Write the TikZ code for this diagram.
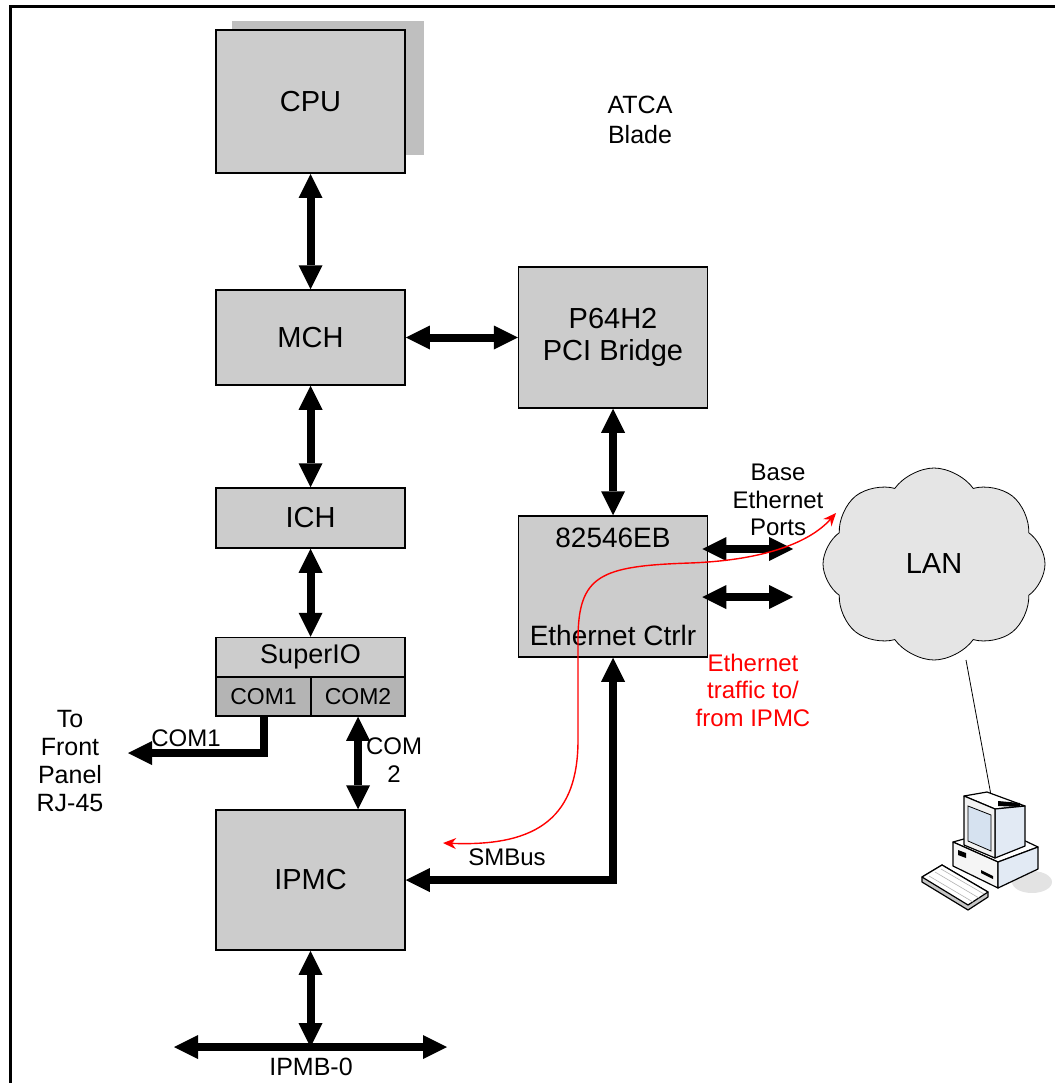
\documentclass[tikz,border=0pt]{standalone}
\usepackage{fontspec}
\setmainfont{Liberation Sans}
\usetikzlibrary{arrows.meta,positioning,shapes.symbols}
\definecolor{boxgray}{RGB}{204,204,204}
\definecolor{shadowgray}{RGB}{191,191,191}
\definecolor{comgray}{RGB}{180,180,180}
\definecolor{cloudgray}{RGB}{229,229,229}
\definecolor{pcblue}{RGB}{214,226,240}
\definecolor{pcside}{RGB}{226,234,244}

\begin{document}
\begin{tikzpicture}[x=1pt, y=-1pt, every node/.style={font=\fontsize{29}{32}\selectfont},
  blk/.style={draw, fill=boxgray, line width=1.5pt, minimum width=189pt, inner sep=0pt, align=center},
  lbl/.style={font=\fontsize{24}{27.5}\selectfont, align=center, inner sep=0pt},
  bus/.style={line width=8pt, {Triangle[length=24pt,width=24pt,line width=0pt]}-{Triangle[length=24pt,width=24pt,line width=0pt]}},
  onebus/.style={line width=8pt, -{Triangle[length=24pt,width=24pt,line width=0pt]}}]
\useasboundingbox (0,0) rectangle (1055,1083);
% frame
\draw[line width=3pt] (10,1083) -- (10,7) -- (1055,7);
% CPU with a second one behind it
\node[fill=shadowgray, minimum width=192pt, minimum height=134pt, inner sep=0pt] (cpuback) at (328,88) {};
\node[blk, line width=2pt, minimum height=143pt] (cpu) at (310.5,101.5) {CPU};
\node[lbl, font=\fontsize{25}{30}\selectfont] (atca) at (640,120) {ATCA\\Blade};
% chipset
\node[blk, minimum height=95pt] (mch) at (310.5,337.5) {MCH};
\node[blk, minimum height=141pt] (bridge) at (613,337.5) {P64H2\\PCI Bridge};
\node[blk, minimum height=60pt] (ich) at (310.5,518) {ICH};
\node[blk, minimum height=39pt, font=\fontsize{27}{30}\selectfont] (sio) at (310.5,657) {SuperIO};
\node[blk, fill=comgray, minimum width=95pt, minimum height=39pt, font=\fontsize{23}{26}\selectfont] (com1) at (263.5,696.5) {COM1};
\node[blk, fill=comgray, minimum width=94pt, minimum height=39pt, font=\fontsize{23}{26}\selectfont] (com2) at (358,696.5) {COM2};
\node[blk, minimum height=140pt] (ipmc) at (310.5,880) {IPMC};
\node[blk, minimum height=141pt, font=\fontsize{28}{31}\selectfont] (eth) at (613,586.5) {82546EB\\[67pt]Ethernet Ctrlr};
% network side
\node[cloud, cloud puffs=8, cloud puff arc=110, shape border rotate=22.5, draw, fill=cloudgray, line width=0.8pt,
  minimum width=222pt, minimum height=192pt, aspect=1.15] (lan) at (934,564) {LAN};
\coordinate (port1) at (793,549);
\coordinate (port2) at (793,597);
\coordinate (panel) at (128,753);
\coordinate (ipmbl) at (174,1047);
\coordinate (ipmbr) at (447,1047);
% buses
\draw[bus] (cpu) -- (mch);
\draw[bus] (mch) -- (ich);
\draw[bus] (ich) -- (sio);
\draw[bus] (mch) -- (bridge);
\draw[bus] (bridge) -- (eth);
\draw[bus] ([xshift=-6pt]eth.east |- port1) -- (port1);
\draw[bus] ([xshift=-6pt]eth.east |- port2) -- (port2);
\draw[onebus] (com1.south) |- (panel);
\draw[bus] (com2.south) -- (com2.south |- ipmc.north);
\draw[bus] (eth.south) |- (ipmc.east);
\draw[bus] (ipmbl) -- (ipmbr);
\draw[bus] (ipmc.south) -- (ipmc.south |- ipmbl);
% labels
\node[lbl] (ports) at (778,500) {Base\\Ethernet\\Ports};
\node[lbl, red] (traffic) at (753,690) {Ethernet\\traffic to/\\from IPMC};
\node[lbl, font=\fontsize{25}{28}\selectfont] (front) at (70,761) {To\\Front\\Panel\\RJ-45};
\node[lbl] (com1lbl) at (186,738) {COM1};
\node[lbl] (com2lbl) at (394,760) {COM\\2};
\node[lbl] (smbus) at (507,857) {SMBus};
\node[lbl, font=\fontsize{25}{28}\selectfont] (ipmb) at (311,1067) {IPMB-0};
% management traffic path
\coordinate (smbend) at (443,843);
\coordinate (lanend) at (836,513);
\draw[red, line width=1.4pt, {Stealth[length=13pt,width=11pt]}-{Stealth[length=13pt,width=11pt]}]
  (smbend) .. controls (540,847) and (578,815) .. (578,740) -- (578,640)
  .. controls (578,575) and (600,566) .. (690,563) .. controls (770,560) and (812,540) .. (lanend);
% workstation on the LAN
\coordinate (pc) at (993,806);
\draw[line width=0.8pt] (966,660) -- (pc);
\fill[gray!22] (1032,882) ellipse (20 and 11);
% keyboard
\filldraw[fill=gray!45, line width=1.2pt, line join=round] (922,877) -- (942,865) -- (988,892) -- (988,897) -- (968,910) -- (922,882) -- cycle;
\filldraw[fill=white, line width=1.2pt, line join=round] (922,877) -- (942,865) -- (988,892) -- (968,905) -- cycle;
\draw[gray!60, line width=0.6pt] (929,876) -- (973,902) (935,872) -- (979,898) (941,869) -- (984,894);
% base unit
\filldraw[fill=white, line width=1.2pt, line join=round] (953,842) -- (1000,829) -- (1038,847) -- (998,862) -- cycle;
\filldraw[fill=gray!8, line width=1.2pt, line join=round] (953,842) -- (998,862) -- (998,888) -- (953,866) -- cycle;
\filldraw[fill=pcside, line width=1.2pt, line join=round] (998,862) -- (1038,847) -- (1038,869) -- (998,888) -- cycle;
\fill[black] (958,850) -- (966,853) -- (966,858) -- (958,855) -- cycle;
\fill[black] (981,870) -- (993,876) -- (993,879) -- (981,873) -- cycle;
% monitor
\filldraw[fill=white, line width=1.2pt, line join=round] (964,796) -- (987,792) -- (1025,806) -- (995,809) -- cycle;
\filldraw[fill=pcside, line width=1.2pt, line join=round] (995,809) -- (1025,806) -- (1025,846) -- (995,858) -- cycle;
\filldraw[fill=gray!10, line width=1.2pt, line join=round] (964,796) -- (995,809) -- (995,858) -- (964,845) -- cycle;
\filldraw[fill=pcblue, line width=0.8pt] (968,806) -- (991,815) -- (991,851) -- (968,841) -- cycle;
\fill[black] (998,801) -- (1020,803) -- (1020,807) -- (998,806) -- cycle;
\end{tikzpicture}
\end{document}
